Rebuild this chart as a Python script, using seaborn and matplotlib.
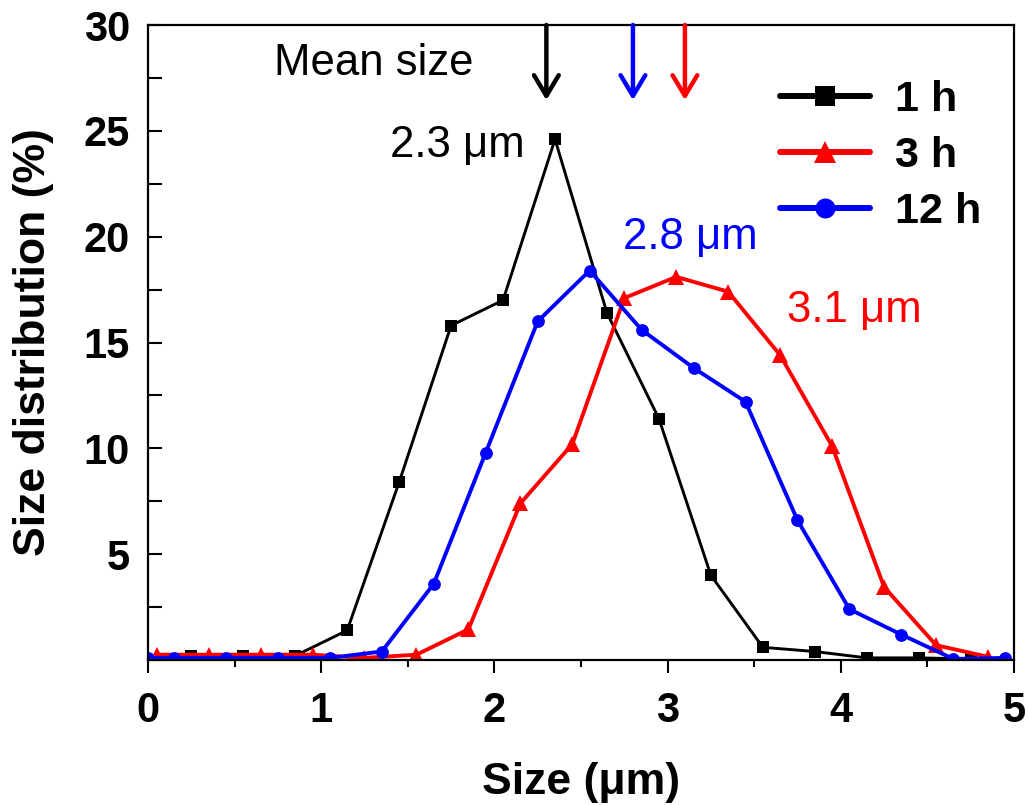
import matplotlib
matplotlib.use("Agg")
import matplotlib.pyplot as plt
from matplotlib.lines import Line2D
from matplotlib.ticker import FixedLocator, MultipleLocator
import pandas as pd
import seaborn as sns

# Particle size distributions after different milling times
size_1h = [0.25, 0.55, 0.85, 1.15, 1.45, 1.75, 2.05, 2.35, 2.65, 2.95, 3.25, 3.55, 3.85, 4.15, 4.45, 4.75]
dist_1h = [0.2, 0.2, 0.2, 1.4, 8.4, 15.8, 17.0, 24.6, 16.4, 11.4, 4.0, 0.6, 0.4, 0.1, 0.1, 0.05]

size_3h = [0.05, 0.35, 0.65, 0.95, 1.25, 1.55, 1.85, 2.15, 2.45, 2.75, 3.05, 3.35, 3.65, 3.95, 4.25, 4.55, 4.85]
dist_3h = [0.25, 0.25, 0.25, 0.25, 0.1, 0.25, 1.45, 7.4, 10.2, 17.1, 18.1, 17.4, 14.4, 10.1, 3.45, 0.7, 0.15]

size_12h = [0.0, 0.15, 0.45, 0.75, 1.05, 1.35, 1.65, 1.95, 2.25, 2.55, 2.85, 3.15, 3.45, 3.75, 4.05, 4.35, 4.65, 4.95]
dist_12h = [0.1, 0.1, 0.1, 0.1, 0.1, 0.4, 3.6, 9.8, 16.0, 18.4, 15.6, 13.8, 12.2, 6.6, 2.4, 1.2, 0.05, 0.1]

series_labels = ["1 h", "3 h", "12 h"]
series_colors = ["#000000", "#ff0000", "#0000ff"]
series_markers = ["s", "^", "o"]
mean_sizes = [2.3, 3.1, 2.8]
mean_label_pos = [(1.784, 23.78), (4.079, 15.98), (3.132, 19.40)]

x_ticks = [0, 1, 2, 3, 4, 5]
y_ticks = [5, 10, 15, 20, 25, 30]

sns.set_theme(style="white")
plt.rcParams["font.family"] = ["Liberation Sans", "DejaVu Sans"]
plt.rcParams["text.color"] = "black"
plt.rcParams["axes.labelcolor"] = "black"
plt.rcParams["xtick.color"] = "black"
plt.rcParams["ytick.color"] = "black"

frames = []
for lab, xs, ys in zip(series_labels,
                       [size_1h, size_3h, size_12h],
                       [dist_1h, dist_3h, dist_12h]):
    frames.append(pd.DataFrame({"size": xs, "dist": ys, "time": lab}))
df = pd.concat(frames, ignore_index=True)

fig = plt.figure(figsize=(10.28, 8.05), dpi=100)
ax = fig.add_axes([0.14397, 0.18012, 0.8424, 0.78882])

line_widths = [2.1, 2.8, 2.8]
marker_sizes = [8.6, 11.5, 9.2]
for lab, col, mk, lw, ms in zip(series_labels, series_colors, series_markers,
                                line_widths, marker_sizes):
    sub = df[df["time"] == lab]
    sns.lineplot(data=sub, x="size", y="dist", ax=ax, color=col, marker=mk,
                 markersize=ms, markeredgewidth=0, markeredgecolor=col,
                 linewidth=lw, sort=False, legend=False)

ax.set_xlim(0, 5)
ax.set_ylim(0, 30)

# Axis ticks: x outward with minor half steps, y inward every 2.5
ax.xaxis.set_major_locator(FixedLocator(x_ticks))
ax.xaxis.set_minor_locator(MultipleLocator(0.5))
ax.yaxis.set_major_locator(FixedLocator(y_ticks))
ax.yaxis.set_minor_locator(MultipleLocator(2.5))
ax.tick_params(axis="x", which="major", direction="out", length=9.5, width=1.5,
               labelsize=30, pad=13, color="black", labelcolor="black",
               bottom=True, top=False)
ax.tick_params(axis="x", which="minor", direction="out", length=5, width=1.5,
               color="black", bottom=True, top=False)
ax.tick_params(axis="y", which="both", direction="in", length=10, width=1.5,
               labelsize=30, pad=13, color="black", labelcolor="black",
               left=True, right=False)
ax.set_xticklabels([str(v) for v in x_ticks], fontweight="bold")
ax.set_yticklabels([str(v) for v in y_ticks], fontweight="bold")

for sp in ax.spines.values():
    sp.set_visible(True)
    sp.set_color("black")
    sp.set_linewidth(1.6)

ax.set_xlabel("Size (\u03bcm)", fontsize=32, fontweight="bold", color="black")
ax.set_ylabel("Size distribution (%)", fontsize=32, fontweight="bold", color="black")
ax.xaxis.set_label_coords(0.5, -0.161)
ax.yaxis.set_label_coords(-0.108, 0.5)

# Mean size markers
ax.text(1.305, 27.64, "Mean size", ha="center", va="baseline", fontsize=31.5,
        color="black")
for m, col, (tx, ty) in zip(mean_sizes, series_colors, mean_label_pos):
    ax.annotate("", xy=(m, 26.45), xytext=(m, 30.0),
                arrowprops=dict(arrowstyle="->,head_length=0.55,head_width=0.33",
                                color=col, lw=3.2, shrinkA=0, shrinkB=0,
                                mutation_scale=27))
    ax.text(tx, ty, f"{m:.1f} \u03bcm", ha="center", va="baseline",
            fontsize=31.5, color=col)

handles = [Line2D([0], [0], color=c, marker=mk, lw=4.3, markersize=ms,
                  markeredgewidth=0)
           for c, mk, ms in zip(series_colors, series_markers, [14.4, 15.5, 14.4])]
ax.legend(handles, series_labels, loc="upper left", bbox_to_anchor=(0.7298, 0.913),
          frameon=False, borderpad=0, borderaxespad=0, handlelength=2.09,
          handletextpad=0.58, labelspacing=0.37,
          prop={"weight": "bold", "size": 31})

fig.savefig("out.png", dpi=100, facecolor="white")
